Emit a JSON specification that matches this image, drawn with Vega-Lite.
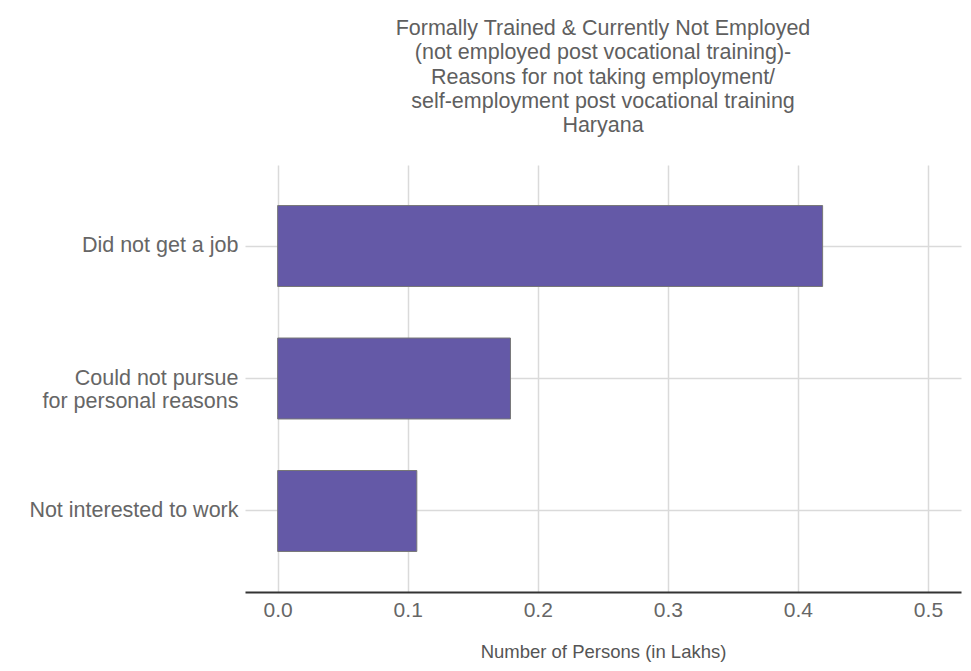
{
  "$schema": "https://vega.github.io/schema/vega-lite/v6.json",
  "width": 716,
  "height": 427,
  "autosize": {"type": "none"},
  "padding": {"left": 245, "top": 165, "right": 10, "bottom": 79},
  "background": "white",
  "title": {
    "text": ["Formally Trained & Currently Not Employed", "(not employed post vocational training)-", "Reasons for not taking employment/", "self-employment post vocational training", "Haryana"],
    "font": "Liberation Sans",
    "fontSize": 21.5,
    "fontWeight": "normal",
    "color": "#5f5f5f",
    "lineHeight": 24.4,
    "anchor": "middle",
    "offset": 28
  },
  "data": {
    "values": [
      {"reason": "Did not get a job", "persons": 0.419},
      {"reason": "Could not pursue for personal reasons", "persons": 0.179},
      {"reason": "Not interested to work", "persons": 0.107}
    ]
  },
  "mark": {"type": "bar", "color": "#6459a7", "stroke": "#777777", "strokeWidth": 1},
  "encoding": {
    "y": {
      "field": "reason",
      "type": "nominal",
      "sort": ["Did not get a job", "Could not pursue for personal reasons", "Not interested to work"],
      "scale": {"paddingInner": 0.389, "paddingOuter": 0.306},
      "axis": {
        "title": null,
        "domain": false,
        "ticks": false,
        "grid": true,
        "bandPosition": 0.5,
        "gridColor": "#dadada",
        "gridWidth": 1.5,
        "labelFont": "Liberation Sans",
        "labelFontSize": 21.5,
        "labelColor": "#666666",
        "labelPadding": 7,
        "labelLineHeight": 23,
        "labelLimit": 300,
        "labelExpr": "datum.value == 'Could not pursue for personal reasons' ? ['Could not pursue', 'for personal reasons'] : datum.label"
      }
    },
    "x": {
      "field": "persons",
      "type": "quantitative",
      "scale": {"domain": [-0.0251, 0.5254], "nice": false, "zero": false},
      "axis": {
        "title": "Number of Persons (in Lakhs)",
        "values": [0, 0.1, 0.2, 0.3, 0.4, 0.5],
        "format": ".1f",
        "domain": true,
        "domainColor": "#333333",
        "domainWidth": 2,
        "ticks": false,
        "grid": true,
        "gridColor": "#dadada",
        "gridWidth": 1.5,
        "labelFont": "Liberation Sans",
        "labelFontSize": 21,
        "labelColor": "#666666",
        "labelPadding": 7,
        "titleFont": "Liberation Sans",
        "titleFontSize": 18.5,
        "titleFontWeight": "normal",
        "titleColor": "#555555",
        "titlePadding": 22
      }
    }
  },
  "config": {"view": {"stroke": null}}
}
